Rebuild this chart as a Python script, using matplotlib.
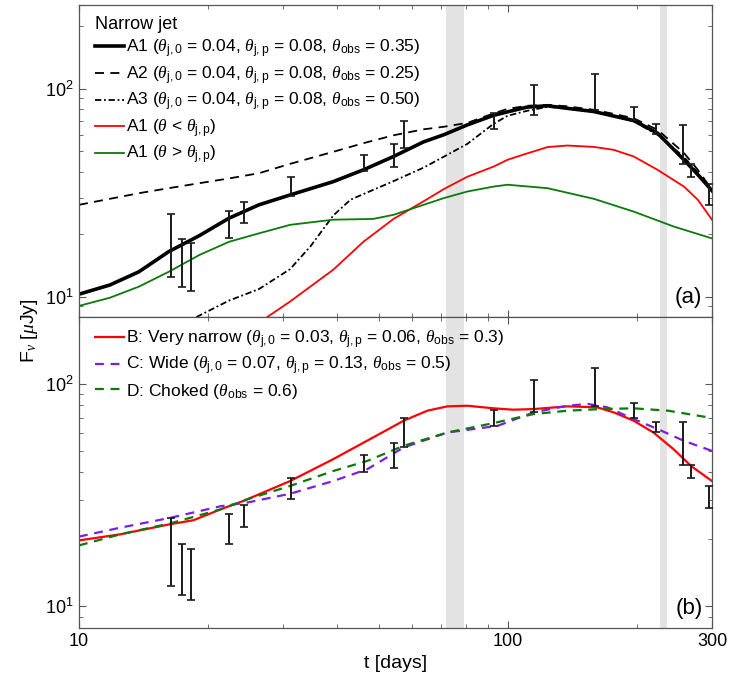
import matplotlib as mpl
mpl.use('Agg')
import matplotlib.pyplot as plt
import numpy as np

plt.rcParams['font.family'] = ['Liberation Sans', 'DejaVu Sans']
plt.rcParams['mathtext.fontset'] = 'custom'
plt.rcParams['mathtext.rm'] = 'Liberation Sans'
plt.rcParams['mathtext.it'] = 'Liberation Serif:italic'
plt.rcParams['mathtext.bf'] = 'Liberation Sans:bold'

# observed points (t in days, flux range in uJy)
obs_t = [16.4, 17.4, 18.3, 22.4, 24.3, 31.3, 46.3, 54.4, 57.2, 93.2, 115, 160, 197, 222, 257, 268, 295]
obs_lo = [12.4, 11.2, 10.7, 19.1, 22.7, 30.5, 40.1, 42.1, 51.8, 64.4, 74.5, 79.3, 70.5, 60.5, 43.3, 37.7, 27.6]
obs_hi = [25.0, 19.0, 18.2, 25.9, 28.5, 37.7, 48.0, 54.2, 70.3, 76.6, 104.6, 117.7, 81.8, 67.5, 67.2, 43.3, 34.8]

# panel (a) models
t_a = [10, 11.8, 13.8, 16.2, 19.1, 22.4, 26.3, 31.1, 39.2, 46.1, 54.2, 63.7, 70.9, 80.6,
       92.8, 100, 111, 124, 138, 159, 177, 197, 224, 258, 278, 300]
f_a1 = [10.3, 11.4, 13.2, 16.5, 19.7, 23.9, 27.7, 30.9, 35.8, 40.8, 47.3, 55.6, 60.1, 67.1,
        74.6, 77.5, 81.7, 82.9, 80.6, 77.8, 74.0, 70.4, 61.2, 45.6, 38.7, 32.4]
f_a2 = [27.7, 29.6, 31.5, 33.3, 35.2, 37.1, 39.3, 43.6, 49.8, 54.8, 59.8, 63.9, 65.7, 68.6,
        76.2, 80.1, 82.9, 83.8, 82.4, 79.3, 75.8, 72.2, 63.5, 49.2, 40.8, 32.7]

t_a3 = [18.8, 22.4, 26.3, 31.1, 34.7, 39.2, 43, 46.1, 54.2, 63.7, 70.9, 80.6, 92.8, 100,
        111, 124, 138, 159, 177, 197, 224, 258, 278, 300]
f_a3 = [8.0, 9.6, 10.9, 13.6, 17.5, 24.6, 29.3, 31.2, 36.0, 41.8, 47.1, 54.4, 67.9, 74.2,
        78.4, 81.9, 80.6, 77.8, 73.8, 69.8, 60.1, 47.1, 39.5, 32.1]

t_in = [27.5, 31.1, 39.2, 46.1, 54.2, 63.7, 70.9, 80.6, 92.8, 100, 111, 124, 138, 159,
        177, 197, 224, 258, 278, 300]
f_in = [8.0, 9.5, 13.5, 18.4, 23.7, 28.8, 32.9, 37.8, 42.3, 45.6, 48.9, 52.5, 53.4, 52.6,
        50.9, 47.3, 40.8, 33.9, 29.3, 23.5]

t_out = [10, 11.8, 13.8, 16.2, 19.1, 22.4, 26.3, 31.1, 39.2, 48.6, 54.2, 63.7, 70.9, 80.6,
         92.8, 100, 124, 159, 197, 244, 300]
f_out = [9.05, 9.9, 11.2, 13.2, 15.9, 18.4, 20.2, 22.2, 23.5, 23.7, 24.8, 27.7, 29.8, 32.1,
         33.9, 34.6, 33.3, 29.6, 25.7, 21.8, 19.1]

# panel (b) models
t_b = [10, 12.5, 16.3, 18.5, 21.4, 24.2, 31.1, 39.2, 48.6, 57.2, 65, 72.4, 80.6, 92.8,
       103, 115, 138, 162, 177, 197, 219, 244, 268, 300]
f_b = [19.8, 21.1, 23.4, 24.4, 27.3, 29.8, 36.6, 45.9, 57.5, 68.3, 75.8, 79.3, 79.8, 77.7,
       76.6, 77.1, 79.3, 78.5, 74.5, 68.3, 60.5, 50.9, 42.8, 36.6]

t_c = [10, 12.5, 16.3, 21.4, 24.7, 31.1, 39.2, 47.1, 57.2, 72.4, 94.8, 115, 138, 154,
       171, 197, 224, 258, 300]
f_c = [20.6, 22.6, 25.0, 28.2, 29.3, 32.1, 36.6, 41.4, 51.8, 60.5, 64.8, 74.5, 79.8, 81.3,
       78.5, 69.5, 62.7, 55.5, 50.0]

t_d = [10, 12.5, 16.3, 21.4, 24.7, 31.1, 39.2, 47.1, 57.2, 72.4, 92.8, 115, 138, 165,
       197, 237, 300]
f_d = [18.8, 21.1, 23.6, 27.3, 30.3, 34.8, 40.6, 45.1, 52.7, 60.5, 66.7, 73.2, 75.8, 77.1,
       77.7, 75.8, 70.3]

bands = [(72, 79), (227, 236)]

red = '#ff0000'
green = '#0a7a0a'
purple = '#7a1fe8'

fig = plt.figure(figsize=(7.31, 6.84), dpi=100)
ax1 = fig.add_axes([0.108, 0.5365, 0.866, 0.4562])
ax2 = fig.add_axes([0.108, 0.0819, 0.866, 0.4547])

obs_mid = (np.array(obs_lo) + np.array(obs_hi)) / 2
yerr = [obs_mid - np.array(obs_lo), np.array(obs_hi) - obs_mid]

for ax in (ax1, ax2):
    for b0, b1 in bands:
        ax.axvspan(b0, b1, color='#e3e3e3', lw=0, zorder=0)
    ax.errorbar(obs_t, obs_mid, yerr=yerr, fmt='none', ecolor='#1a1a1a',
                elinewidth=1.4, capsize=2.8, capthick=1.2, zorder=5)
    ax.set_xscale('log')
    ax.set_yscale('log')
    ax.set_xlim(10, 300)
    ax.tick_params(which='both', direction='in', top=True, right=True,
                   labelsize=13, color='#555555')
    ax.tick_params(which='major', length=5)
    ax.tick_params(which='minor', length=3)
    for s in ax.spines.values():
        s.set_color('#555555')
        s.set_linewidth(0.9)

# panel (a)
ax1.plot(t_a, f_a1, color='black', lw=2.6, label=r'A1 ($\theta_{\rm j,0}$ = 0.04, $\theta_{\rm j,p}$ = 0.08, $\theta_{\rm obs}$ = 0.35)')
ax1.plot(t_a, f_a2, color='black', lw=1.3, dashes=(5, 3.5), label=r'A2 ($\theta_{\rm j,0}$ = 0.04, $\theta_{\rm j,p}$ = 0.08, $\theta_{\rm obs}$ = 0.25)')
ax1.plot(t_a3, f_a3, color='black', lw=1.3, dashes=(3.5, 1.5, 1, 1.5), label=r'A3 ($\theta_{\rm j,0}$ = 0.04, $\theta_{\rm j,p}$ = 0.08, $\theta_{\rm obs}$ = 0.50)')
ax1.plot(t_in, f_in, color=red, lw=1.3, label=r'A1 ($\theta$ < $\theta_{\rm j,p}$)')
ax1.plot(t_out, f_out, color=green, lw=1.3, label=r'A1 ($\theta$ > $\theta_{\rm j,p}$)')
ax1.set_ylim(8.0, 253)
ax1.set_xticks([10, 100, 300])
ax1.set_xticklabels([])
ax1.tick_params(which='both', labelbottom=False)
leg1 = ax1.legend(loc='upper left', bbox_to_anchor=(0.007, 1.0), frameon=False,
                  title='Narrow jet', fontsize=12.5, title_fontsize=13,
                  handlelength=1.7, handletextpad=0.1, labelspacing=0.25,
                  borderaxespad=0.25, alignment='left')
ax1.text(0.985, 0.03, '(a)', transform=ax1.transAxes, ha='right', va='bottom', fontsize=16)

# panel (b)
ax2.plot(t_b, f_b, color=red, lw=1.6, label=r'B: Very narrow ($\theta_{\rm j,0}$ = 0.03, $\theta_{\rm j,p}$ = 0.06, $\theta_{\rm obs}$ = 0.3)')
ax2.plot(t_c, f_c, color=purple, lw=1.6, dashes=(4, 3), label=r'C: Wide ($\theta_{\rm j,0}$ = 0.07, $\theta_{\rm j,p}$ = 0.13, $\theta_{\rm obs}$ = 0.5)')
ax2.plot(t_d, f_d, color=green, lw=1.6, dashes=(4, 3), label=r'D: Choked ($\theta_{\rm obs}$ = 0.6)')
ax2.set_ylim(8.0, 200)
ax2.set_xticks([10, 100, 300])
ax2.set_xticklabels(['10', '100', '300'])
ax2.set_xlabel('t [days]', fontsize=14)
leg2 = ax2.legend(loc='upper left', bbox_to_anchor=(0.007, 1.0), frameon=False,
                  fontsize=12.5, handlelength=1.7, handletextpad=0.1,
                  labelspacing=0.25, borderaxespad=0.25)
ax2.text(0.985, 0.03, '(b)', transform=ax2.transAxes, ha='right', va='bottom', fontsize=16)

fig.text(0.04, 0.517, r'F$_{\nu}$ [$\mu$Jy]', rotation=90, ha='center', va='center', fontsize=14)

plt.savefig('out.png', dpi=100)
